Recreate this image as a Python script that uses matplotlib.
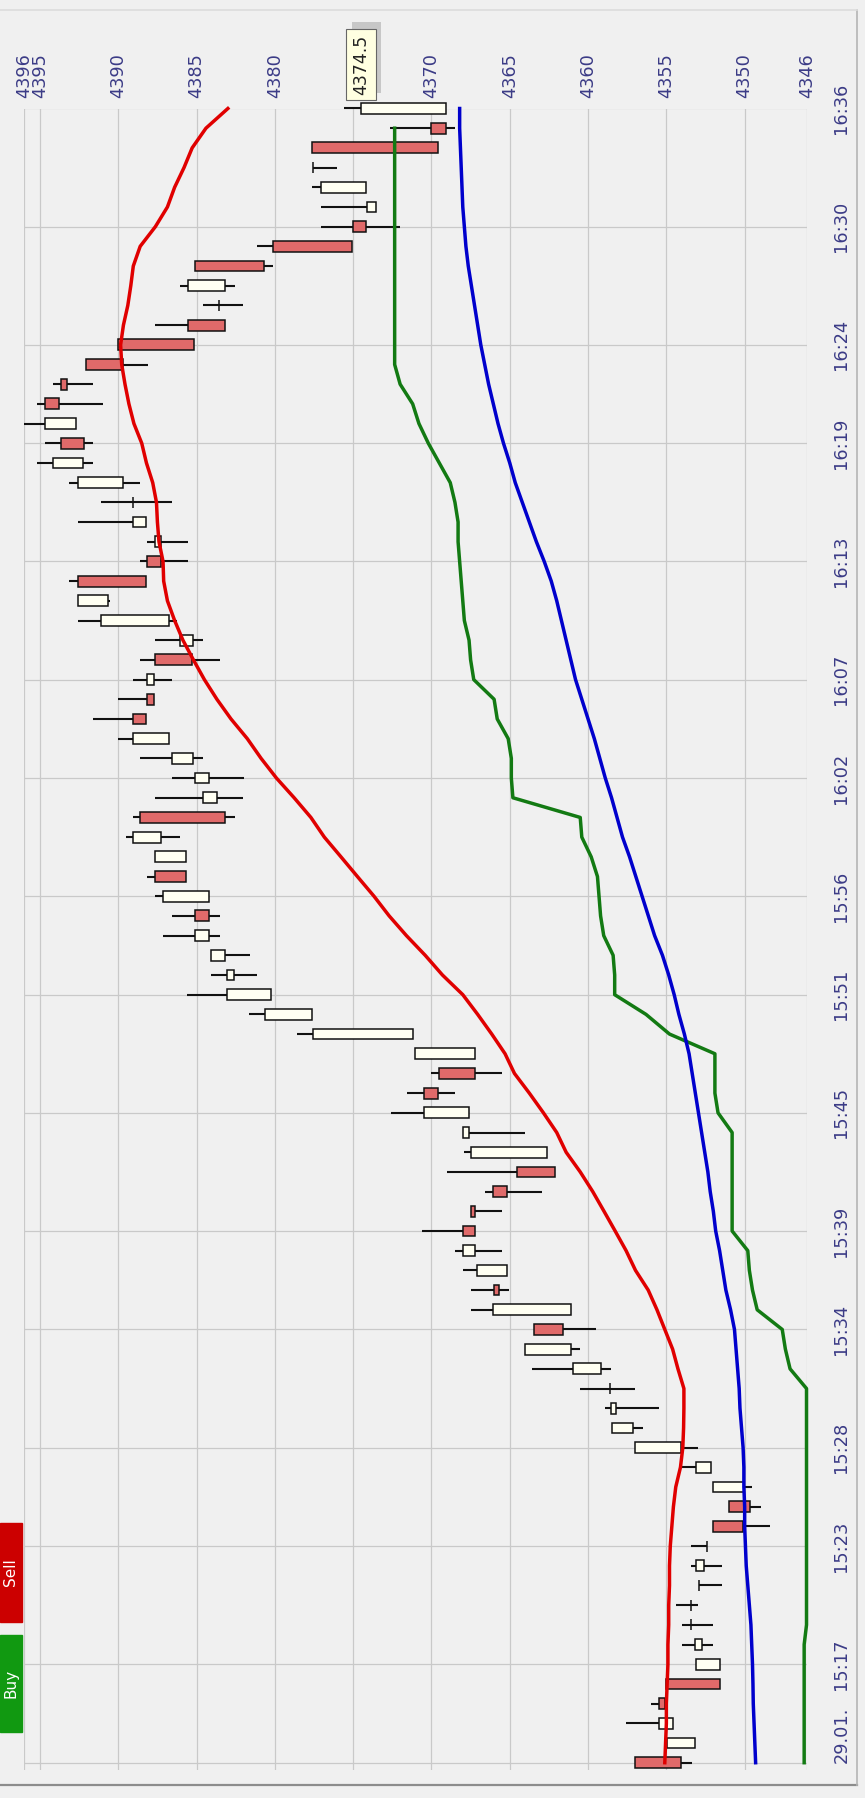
import matplotlib.pyplot as plt
import matplotlib.patheffects as pe
from matplotlib.patches import Rectangle
from matplotlib.lines import Line2D
import numpy as np

# 1-minute candles, 29.01. 15:12 .. 16:36
start_label = "29.01."
n_candles = 85
opens = [4357.0, 4353.2, 4354.6, 4355.5, 4355.0, 4351.6, 4352.75, 4353.45, 4353.45, 4352.9,
         4352.6, 4352.4, 4352.05, 4351.0, 4350.04, 4352.15, 4354.05, 4357.15, 4358.2, 4358.6,
         4359.19, 4361.12, 4363.48, 4361.12, 4366.0, 4365.16, 4367.2, 4368.0, 4367.45, 4366.1,
         4364.53, 4362.6, 4367.6, 4367.6, 4370.5, 4369.52, 4367.24, 4371.2, 4377.65, 4380.25,
         4382.64, 4383.17, 4384.22, 4385.1, 4384.22, 4387.63, 4385.7, 4387.28, 4388.62, 4383.7,
         4384.22, 4385.2, 4386.75, 4389.04, 4388.16, 4387.74, 4387.63, 4385.2, 4386.75, 4390.66,
         4392.59, 4388.16, 4387.28, 4388.26, 4389.04, 4389.67, 4392.24, 4393.64, 4392.73, 4394.66,
         4393.64, 4392.06, 4390.02, 4385.56, 4383.59, 4383.17, 4385.1, 4380.1, 4375.0, 4373.57,
         4374.2, 4377.54, 4377.6, 4370.05, 4369.1]
highs = [4357.0, 4354.93, 4357.57, 4356.0, 4355.0, 4353.1, 4354.0, 4354.0, 4354.4, 4352.9,
         4353.45, 4353.45, 4352.05, 4351.0, 4352.0, 4354.0, 4357.0, 4358.5, 4358.9, 4360.5,
         4363.55, 4364.0, 4363.48, 4367.45, 4367.45, 4368.0, 4368.47, 4370.6, 4367.45, 4366.57,
         4369.03, 4367.94, 4368.0, 4372.6, 4371.56, 4370.05, 4371.04, 4378.6, 4381.65, 4385.63,
         4384.1, 4384.05, 4387.14, 4386.58, 4387.63, 4388.16, 4387.63, 4389.5, 4389.04, 4387.63,
         4386.58, 4388.6, 4390.0, 4391.6, 4390.0, 4389.04, 4388.6, 4387.63, 4392.6, 4392.59,
         4393.12, 4388.6, 4388.16, 4392.59, 4391.08, 4393.12, 4395.2, 4394.66, 4396.0, 4395.2,
         4394.14, 4392.06, 4390.02, 4387.63, 4384.57, 4386.08, 4385.1, 4381.13, 4377.08, 4377.08,
         4377.6, 4377.54, 4377.6, 4372.62, 4375.6]
lows = [4353.35, 4353.2, 4354.6, 4355.1, 4351.6, 4351.6, 4352.05, 4352.0, 4353.0, 4351.45,
        4351.45, 4352.4, 4348.4, 4348.95, 4349.5, 4352.15, 4353.0, 4356.5, 4355.45, 4357.0,
        4358.55, 4360.5, 4359.5, 4361.12, 4365.06, 4365.16, 4365.5, 4367.2, 4365.5, 4362.95,
        4362.14, 4362.6, 4364.0, 4367.6, 4368.5, 4365.5, 4367.24, 4371.2, 4377.65, 4380.25,
        4381.13, 4381.58, 4383.5, 4383.5, 4384.22, 4385.7, 4385.7, 4386.08, 4382.53, 4382.04,
        4382.0, 4384.57, 4386.75, 4388.2, 4387.74, 4386.58, 4383.5, 4384.57, 4386.26, 4390.5,
        4388.26, 4385.56, 4385.56, 4388.26, 4386.58, 4388.6, 4391.6, 4391.6, 4392.73, 4391.0,
        4391.6, 4388.09, 4385.17, 4383.17, 4382.04, 4382.53, 4380.1, 4375.08, 4372.02, 4373.57,
        4374.2, 4376.03, 4369.56, 4368.47, 4369.1]
closes = [4354.05, 4354.93, 4355.46, 4355.1, 4351.6, 4353.1, 4353.2, 4353.45, 4353.45, 4352.9,
          4353.1, 4352.4, 4350.1, 4349.66, 4352.0, 4353.1, 4357.0, 4358.5, 4358.55, 4358.6,
          4360.94, 4364.0, 4361.6, 4366.04, 4365.7, 4367.1, 4368.0, 4367.2, 4367.2, 4365.16,
          4362.14, 4367.45, 4368.0, 4370.5, 4369.6, 4367.24, 4371.04, 4377.54, 4380.6, 4383.06,
          4383.06, 4384.05, 4385.1, 4384.22, 4387.14, 4385.7, 4387.63, 4389.04, 4383.17, 4384.57,
          4385.1, 4386.58, 4389.04, 4388.2, 4387.74, 4388.16, 4385.28, 4386.08, 4391.08, 4392.59,
          4388.26, 4387.28, 4387.63, 4389.04, 4389.04, 4392.59, 4394.17, 4392.2, 4394.66, 4393.8,
          4393.26, 4389.67, 4385.17, 4383.17, 4383.59, 4385.56, 4380.7, 4375.08, 4374.2, 4374.13,
          4377.08, 4377.54, 4369.56, 4369.1, 4374.5]

# indicator lines, one value per minute
red_line = [4355.1, 4355.05, 4355.0, 4355.0, 4354.95, 4354.9, 4354.9, 4354.85, 4354.85, 4354.8,
            4354.8, 4354.75, 4354.65, 4354.55, 4354.4, 4354.1, 4353.95, 4353.9, 4353.88, 4353.88,
            4354.26, 4354.6, 4355.1, 4355.6, 4356.16, 4356.97, 4357.57, 4358.27, 4358.98, 4359.7,
            4360.5, 4361.4, 4362.0, 4362.85, 4363.75, 4364.7, 4365.3, 4366.15, 4367.05, 4368.0,
            4369.3, 4370.4, 4371.6, 4372.7, 4373.67, 4374.73, 4375.78, 4376.84, 4377.7, 4378.77,
            4379.9, 4380.88, 4381.76, 4382.8, 4383.7, 4384.5, 4385.2, 4385.87, 4386.4, 4386.86,
            4387.1, 4387.14, 4387.4, 4387.5, 4387.56, 4387.8, 4388.2, 4388.5, 4389.0, 4389.32,
            4389.57, 4389.78, 4389.85, 4389.67, 4389.39, 4389.2, 4389.04, 4388.6, 4387.63, 4386.86,
            4386.4, 4385.8, 4385.28, 4384.4, 4383.0]
green_line = [4346.2, 4346.2, 4346.2, 4346.2, 4346.2, 4346.2, 4346.2, 4346.05, 4346.05, 4346.05,
              4346.05, 4346.05, 4346.05, 4346.05, 4346.05, 4346.05, 4346.05, 4346.05, 4346.05, 4346.05,
              4347.1, 4347.4, 4347.6, 4349.2, 4349.5, 4349.7, 4349.8, 4350.8, 4350.8, 4350.8,
              4350.8, 4350.8, 4350.8, 4351.7, 4351.9, 4351.9, 4351.9, 4354.8, 4356.3, 4358.3,
              4358.3, 4358.4, 4359.0, 4359.2, 4359.3, 4359.4, 4359.8, 4360.4, 4360.5, 4364.8,
              4364.9, 4364.9, 4365.1, 4365.8, 4366.0, 4367.3, 4367.5, 4367.6, 4367.9, 4368.0,
              4368.1, 4368.2, 4368.3, 4368.3, 4368.5, 4368.8, 4369.5, 4370.2, 4370.8, 4371.2,
              4372.0, 4372.35, 4372.35, 4372.35, 4372.35, 4372.35, 4372.35, 4372.35, 4372.35, 4372.35,
              4372.35, 4372.35, 4372.35, 4372.35]
blue_line = [4349.3, 4349.35, 4349.4, 4349.45, 4349.47, 4349.5, 4349.55, 4349.6, 4349.7, 4349.8,
             4349.9, 4349.95, 4350.0, 4350.0, 4350.05, 4350.05, 4350.1, 4350.2, 4350.3, 4350.35,
             4350.45, 4350.55, 4350.65, 4350.9, 4351.2, 4351.4, 4351.6, 4351.85, 4352.0, 4352.2,
             4352.35, 4352.55, 4352.75, 4352.95, 4353.15, 4353.35, 4353.55, 4353.85, 4354.2, 4354.5,
             4354.85, 4355.25, 4355.75, 4356.15, 4356.55, 4356.95, 4357.35, 4357.8, 4358.15, 4358.5,
             4358.9, 4359.25, 4359.6, 4360.0, 4360.4, 4360.8, 4361.1, 4361.4, 4361.7, 4362.0,
             4362.35, 4362.8, 4363.3, 4363.75, 4364.2, 4364.65, 4365.0, 4365.4, 4365.75, 4366.05,
             4366.35, 4366.6, 4366.85, 4367.05, 4367.25, 4367.45, 4367.65, 4367.8, 4367.9, 4368.0,
             4368.05, 4368.1, 4368.15, 4368.2, 4368.2]

price_ticks = [4396, 4395, 4390, 4385, 4380, 4375, 4370, 4365, 4360, 4355, 4350, 4346]
# the 4375 label sits under the last-price tooltip
price_labels = ["4396", "4395", "4390", "4385", "4380", "", "4370", "4365", "4360",
                "4355", "4350", "4346"]
time_ticks = [0, 5, 11, 16, 22, 27, 33, 39, 44, 50, 55, 61, 67, 72, 78, 84]
time_labels = ["29.01.", "15:17", "15:23", "15:28", "15:34", "15:39", "15:45", "15:51",
               "15:56", "16:02", "16:07", "16:13", "16:19", "16:24", "16:30", "16:36"]
last_price = 4374.5


def main():
    bg = "#f0f0f0"
    label_col = "#3b3b86"
    W, H = 865, 1798
    fig = plt.figure(figsize=(W / 100, H / 100), dpi=100, facecolor=bg)
    ax = fig.add_axes([24.3 / W, (H - 1769.6) / H, 783.0 / W, 1661.1 / H])
    ax.set_facecolor("none")
    for s in ax.spines.values():
        s.set_visible(False)

    t = np.arange(n_candles)
    o = np.array(opens)
    c = np.array(closes)
    up = c >= o

    # wicks
    ax.hlines(t, lows, highs, color="#111111", lw=1.5, zorder=2, clip_on=False)
    # bodies
    b1 = ax.barh(t[up], c[up] - o[up], left=o[up], height=0.55,
                 color="#fffff2", edgecolor="#111111", linewidth=1.1, zorder=3)
    b2 = ax.barh(t[~up], c[~up] - o[~up], left=o[~up], height=0.55,
                 color="#e06a6a", edgecolor="#111111", linewidth=1.1, zorder=3)
    for bar in list(b1) + list(b2):
        bar.set_clip_on(False)

    ax.plot(red_line, t, color="#e00000", lw=2.5, zorder=4, clip_on=False)
    ax.plot(green_line, t[:len(green_line)], color="#137a13", lw=2.5, zorder=4, clip_on=False)
    ax.plot(blue_line, t, color="#0000cc", lw=2.5, zorder=4, clip_on=False)

    ax.set_xlim(4396, 4346)
    ax.set_ylim(-0.35, 84)
    ax.grid(True, color="#c9c9c9", lw=0.9)
    ax.set_axisbelow(True)

    ax.xaxis.tick_top()
    ax.set_xticks(price_ticks, price_labels)
    ax.tick_params(axis="x", length=0, pad=7.5, labelsize=12.8,
                   labelcolor=label_col, rotation=90)

    ax.yaxis.tick_right()
    ax.set_yticks(time_ticks, time_labels)
    ax.tick_params(axis="y", length=0, pad=18, labelsize=12.8, labelcolor=label_col)
    for i, lab in enumerate(ax.get_yticklabels()):
        lab.set_rotation(90)
        lab.set_va("bottom" if i == 0 else "center")

    # last price tooltip
    tip = ax.text(last_price, 1.0265, f"{last_price}", transform=ax.get_xaxis_transform(),
                  rotation=90, ha="center", va="center", fontsize=12.5, color="#222222",
                  bbox=dict(boxstyle="square,pad=0.32", fc="#ffffe1", ec="#666666", lw=0.8),
                  zorder=6, clip_on=False)
    tip.get_bbox_patch().set_path_effects(
        [pe.withSimplePatchShadow(offset=(4, 5), shadow_rgbFace="#a0a0a0", alpha=0.5)])

    # Buy / Sell buttons
    def px(x0, y0, x1, y1):
        return (x0 / W, (H - y1) / H), (x1 - x0) / W, (y1 - y0) / H

    xy, w, h = px(0, 1523, 22, 1622)
    fig.patches.append(Rectangle(xy, w, h, transform=fig.transFigure, color="#cc0000"))
    fig.text(xy[0] + w / 2, xy[1] + h / 2, "Sell", rotation=90, ha="center", va="center",
             color="white", fontsize=11)
    xy, w, h = px(0, 1635, 22, 1732)
    fig.patches.append(Rectangle(xy, w, h, transform=fig.transFigure, color="#119911"))
    fig.text(xy[0] + w / 2, xy[1] + h / 2, "Buy", rotation=90, ha="center", va="center",
             color="white", fontsize=11)

    # window frame
    fig.lines.append(Line2D([0, 857 / W], [(H - 1785) / H] * 2, transform=fig.transFigure,
                            color="#8c8c8c", lw=1.6))
    fig.lines.append(Line2D([857 / W] * 2, [(H - 1785) / H, (H - 10) / H],
                            transform=fig.transFigure, color="#b4b4b4", lw=1.2))
    fig.lines.append(Line2D([0, 857 / W], [(H - 10) / H] * 2, transform=fig.transFigure,
                            color="#dcdcdc", lw=1.2))

    fig.savefig("out.png", dpi=100, facecolor=bg)


if __name__ == "__main__":
    main()
